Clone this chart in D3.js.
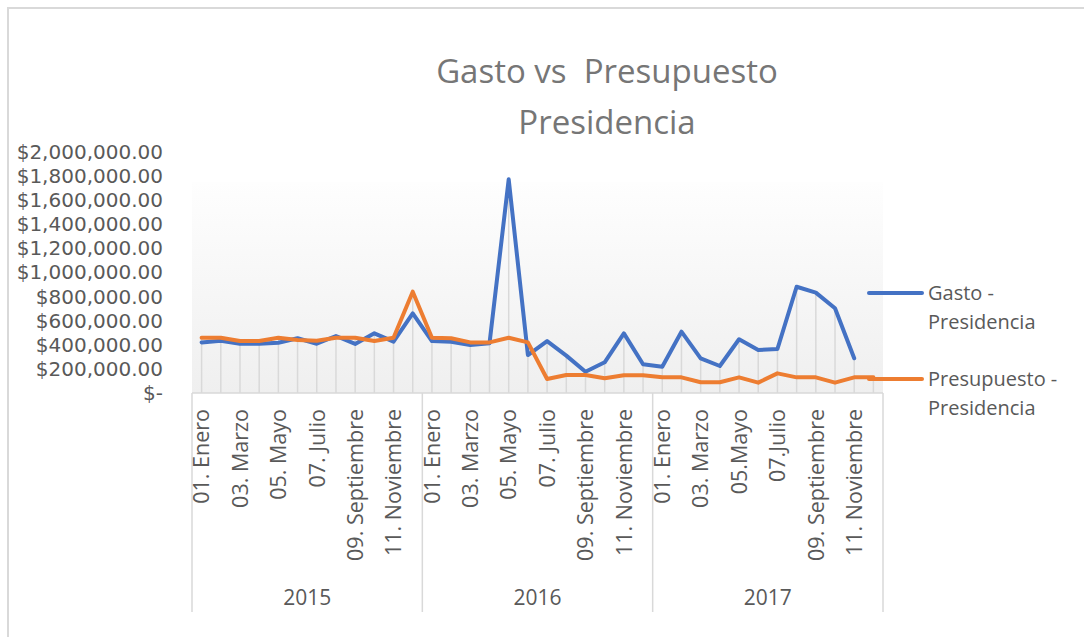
<!DOCTYPE html>
<html>
<head>
<meta charset="utf-8">
<script src="https://cdn.jsdelivr.net/npm/d3@7"></script>
<style>
    body { margin: 0; background: white; }
    text { font-family: "Open Sans", "Noto Sans", sans-serif; }
</style>
</head>
<body>
<div id="chartId"></div>
<script>

const YEARS = ["2015", "2016", "2017"]
const MONTHS = ["01", "02", "03", "04", "05", "06", "07", "08", "09", "10", "11", "12"]
// only odd months get a label in the original, and 2017 has a couple without the space
const MONTH_LABELS = {
    "2015": ["01. Enero", "", "03. Marzo", "", "05. Mayo", "", "07. Julio", "", "09. Septiembre", "", "11. Noviembre", ""],
    "2016": ["01. Enero", "", "03. Marzo", "", "05. Mayo", "", "07. Julio", "", "09. Septiembre", "", "11. Noviembre", ""],
    "2017": ["01. Enero", "", "03. Marzo", "", "05.Mayo", "", "07.Julio", "", "09. Septiembre", "", "11. Noviembre", ""]
}

const GASTO = [
    420000, 434000, 409000, 409000, 417000, 454000, 409000, 473000, 407000, 495000, 426000, 661000,
    431000, 426000, 398000, 412000, 1773000, 315000, 431000, 310000, 177000, 255000, 495000, 238000,
    218000, 509000, 288000, 224000, 446000, 357000, 365000, 882000, 833000, 703000, 288000, null
]
const PRESUPUESTO = [
    459000, 459000, 431000, 431000, 459000, 440000, 434000, 459000, 459000, 431000, 459000, 841000,
    459000, 454000, 420000, 420000, 459000, 420000, 116000, 149000, 149000, 122000, 147000, 147000,
    130000, 130000, 89000, 89000, 130000, 86000, 163000, 130000, 130000, 86000, 130000, 130000
]
const Y_TICKS = [0, 200000, 400000, 600000, 800000, 1000000, 1200000, 1400000, 1600000, 1800000, 2000000]

const WIDTH = 1084
const HEIGHT = 637
const PLOT_LEFT = 192
const PLOT_RIGHT = 883
const PLOT_TOP = 182
const AXIS_Y = 393
const Y_MAX_PX = 152
const BLUE = "#4472c4"
const ORANGE = "#ed7d31"
const GRID_COLOR = "#d9d9d9"
const TEXT_COLOR = "#595959"

let categories = []
YEARS.forEach(year => MONTHS.forEach((m, i) => categories.push({year: year, month: i, label: MONTH_LABELS[year][i]})))

let svg = d3.select("div#chartId")
    .append("svg")
    .attr("width", WIDTH)
    .attr("height", HEIGHT)

// chart frame, cut off at right and bottom in the original
svg.append("line")
    .attr("x1", 7).attr("y1", 8).attr("x2", WIDTH).attr("y2", 8)
    .attr("stroke", GRID_COLOR).attr("stroke-width", 2)
svg.append("line")
    .attr("x1", 8).attr("y1", 7).attr("x2", 8).attr("y2", HEIGHT)
    .attr("stroke", GRID_COLOR).attr("stroke-width", 2)

let x = d3.scaleBand()
    .domain(d3.range(categories.length))
    .range([PLOT_LEFT, PLOT_RIGHT])
let y = d3.scaleLinear()
    .domain([0, 2000000])
    .range([AXIS_Y, Y_MAX_PX])
let cx = i => x(i) + x.bandwidth() / 2

// plot area background
let gradient = svg.append("defs").append("linearGradient")
    .attr("id", "plotGradient")
    .attr("x1", 0).attr("y1", 0).attr("x2", 0).attr("y2", 1)
gradient.append("stop").attr("offset", "0%").attr("stop-color", "#fefefe")
gradient.append("stop").attr("offset", "100%").attr("stop-color", "#efefef")
svg.append("rect")
    .attr("x", PLOT_LEFT)
    .attr("y", PLOT_TOP)
    .attr("width", PLOT_RIGHT - PLOT_LEFT)
    .attr("height", AXIS_Y - PLOT_TOP)
    .attr("fill", "url(#plotGradient)")

// title
let title = svg.append("text")
    .attr("x", 607)
    .attr("text-anchor", "middle")
    .attr("fill", "#767676")
    .style("font-size", "33px")
    .style("white-space", "pre")
title.append("tspan").attr("x", 607).attr("y", 83).text("Gasto vs  Presupuesto")
title.append("tspan").attr("x", 607).attr("y", 134).text("Presidencia")

// y axis (DejaVu here: wide enough for the labels and still fits the 24px rows)
let yAxis = d3.axisLeft(y)
    .tickValues(Y_TICKS)
    .tickSize(0)
    .tickPadding(29)
    .tickFormat(d => d === 0 ? "$-" : d3.format("$,.2f")(d))
let yAxisGroup = svg.append("g")
    .attr("transform", "translate(" + PLOT_LEFT + ",0)")
    .call(yAxis)
yAxisGroup.select(".domain").remove()
yAxisGroup.selectAll("text")
    .attr("fill", TEXT_COLOR)
    .style("font-size", "20px")
    .style("font-family", "'DejaVu Sans', sans-serif")

// drop lines from the highest point of each category
svg.append("g")
    .selectAll("line")
    .data(categories)
    .join("line")
    .attr("x1", (d, i) => cx(i))
    .attr("x2", (d, i) => cx(i))
    .attr("y1", (d, i) => y(d3.max([GASTO[i], PRESUPUESTO[i]])))
    .attr("y2", AXIS_Y)
    .attr("stroke", GRID_COLOR)
    .attr("stroke-width", 1.5)

// category axis: line, group separators, labels
svg.append("line")
    .attr("x1", PLOT_LEFT).attr("y1", AXIS_Y).attr("x2", PLOT_RIGHT).attr("y2", AXIS_Y)
    .attr("stroke", GRID_COLOR).attr("stroke-width", 1.5)

let yearWidth = (PLOT_RIGHT - PLOT_LEFT) / YEARS.length
svg.append("g")
    .selectAll("line")
    .data(d3.range(YEARS.length + 1))
    .join("line")
    .attr("x1", d => PLOT_LEFT + d * yearWidth)
    .attr("x2", d => PLOT_LEFT + d * yearWidth)
    .attr("y1", AXIS_Y)
    .attr("y2", 612)
    .attr("stroke", GRID_COLOR)
    .attr("stroke-width", 1.5)

svg.append("g")
    .selectAll("text")
    .data(categories)
    .join("text")
    .attr("transform", (d, i) => "translate(" + cx(i) + ",409) rotate(-90)")
    .attr("dy", "0.36em")
    .attr("text-anchor", "end")
    .attr("fill", TEXT_COLOR)
    .style("font-size", "21.5px")
    .text(d => d.label)

svg.append("g")
    .selectAll("text")
    .data(YEARS)
    .join("text")
    .attr("x", (d, i) => PLOT_LEFT + (i + 0.5) * yearWidth)
    .attr("y", 605)
    .attr("text-anchor", "middle")
    .attr("fill", TEXT_COLOR)
    .style("font-size", "21px")
    .text(d => d)

// series
let line = d3.line()
    .defined(d => d !== null)
    .x((d, i) => cx(i))
    .y(d => y(d))

svg.append("path")
    .datum(GASTO)
    .attr("d", line)
    .attr("fill", "none")
    .attr("stroke", BLUE)
    .attr("stroke-width", 4)
    .attr("stroke-linejoin", "round")
    .attr("stroke-linecap", "round")

svg.append("path")
    .datum(PRESUPUESTO)
    .attr("d", line)
    .attr("fill", "none")
    .attr("stroke", ORANGE)
    .attr("stroke-width", 4)
    .attr("stroke-linejoin", "round")
    .attr("stroke-linecap", "round")

// legend
const LEGEND = [
    {color: BLUE, lines: ["Gasto -", "Presidencia"], y: 293},
    {color: ORANGE, lines: ["Presupuesto -", "Presidencia"], y: 379}
]
LEGEND.forEach(item => {
    svg.append("line")
        .attr("x1", 869).attr("x2", 922)
        .attr("y1", item.y).attr("y2", item.y)
        .attr("stroke", item.color)
        .attr("stroke-width", 4)
        .attr("stroke-linecap", "round")
    let t = svg.append("text")
        .attr("fill", TEXT_COLOR)
        .style("font-size", "20px")
    item.lines.forEach((s, k) => {
        t.append("tspan")
            .attr("x", 928)
            .attr("y", item.y + 7 + k * 29)
            .text(s)
    })
})

</script>
</body>
</html>
